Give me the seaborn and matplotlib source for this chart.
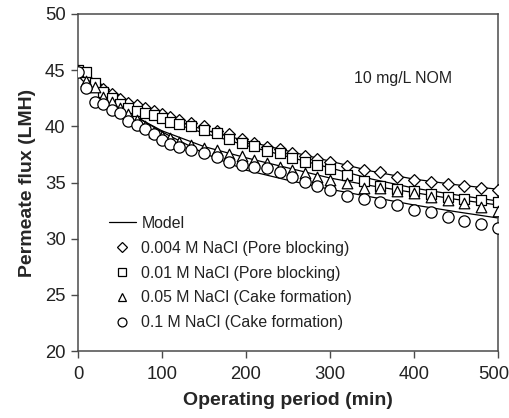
import numpy as np
import pandas as pd
import matplotlib
matplotlib.use("Agg")
import matplotlib.pyplot as plt
import matplotlib.transforms as mtransforms
from matplotlib.lines import Line2D
import seaborn as sns

# ---- data ----
time_min = [0, 10, 20, 30, 40, 50, 60, 70, 80, 90, 100, 110, 120, 135, 150, 165,
            180, 195, 210, 225, 240, 255, 270, 285, 300, 320, 340, 360, 380, 400,
            420, 440, 460, 480, 500]

flux_0004M = [44.9, 44.3, 43.8, 43.3, 42.9, 42.4, 42.1, 41.9, 41.6, 41.4, 41.1, 40.8,
              40.6, 40.3, 40.0, 39.6, 39.3, 38.9, 38.5, 38.2, 37.95, 37.6, 37.4, 37.1,
              36.85, 36.5, 36.15, 35.9, 35.5, 35.2, 35.05, 34.87, 34.7, 34.5, 34.34]
flux_001M = [45.0, 44.8, 43.9, 43.1, 42.5, 42.0, 41.6, 41.4, 41.2, 41.0, 40.7, 40.4,
             40.2, 40.0, 39.7, 39.4, 38.9, 38.5, 38.25, 37.8, 37.6, 37.2, 36.8, 36.55,
             36.2, 35.7, 35.1, 34.7, 34.4, 34.2, 34.0, 33.7, 33.5, 33.4, 33.3]
flux_005M = [44.9, 44.0, 43.5, 42.6, 42.2, 41.6, 41.1, 40.6, 40.0, 39.5, 39.1, 38.95,
             38.6, 38.3, 38.05, 37.85, 37.55, 37.35, 37.0, 36.74, 36.4, 36.1, 35.85,
             35.45, 35.2, 35.0, 34.55, 34.5, 34.2, 34.05, 33.7, 33.4, 33.2, 32.8, 32.47]
flux_01M = [44.84, 43.42, 42.17, 42.0, 41.46, 41.19, 40.48, 40.12, 39.77, 39.32, 38.79,
            38.43, 38.17, 37.9, 37.63, 37.28, 36.83, 36.56, 36.38, 36.3, 35.94, 35.49,
            35.05, 34.69, 34.34, 33.8, 33.54, 33.27, 33.0, 32.56, 32.38, 31.93, 31.58,
            31.31, 30.95]

model_time = [0, 25, 50, 75, 100, 150, 200, 250, 300, 350, 400, 450, 500]
model_0004M = [45.0, 43.6, 42.6, 41.7, 40.9, 39.7, 38.7, 37.8, 36.9, 36.0, 35.3, 34.8, 34.4]
model_001M = [45.0, 43.5, 42.3, 41.4, 40.6, 39.4, 38.3, 37.3, 36.3, 35.3, 34.5, 33.9, 33.35]
model_005M = [45.0, 43.3, 41.9, 40.6, 39.6, 38.2, 37.2, 36.3, 35.4, 34.7, 34.1, 33.5, 33.0]
model_01M = [45.0, 43.2, 41.8, 40.6, 39.5, 37.6, 36.1, 35.2, 34.4, 33.7, 33.0, 32.4, 31.84]

series_labels = ["0.004 M NaCl (Pore blocking)", "0.01 M NaCl (Pore blocking)",
                 "0.05 M NaCl (Cake formation)", "0.1 M NaCl (Cake formation)"]
x_ticks = [0, 100, 200, 300, 400, 500]
y_ticks = [20, 25, 30, 35, 40, 45, 50]
annotation = "10 mg/L NOM"
x_label = "Operating period (min)"
y_label = "Permeate flux (LMH)"

# ---- build tables ----
obs = pd.concat([
    pd.DataFrame({"t": time_min, "flux": f, "series": lab})
    for f, lab in zip([flux_0004M, flux_001M, flux_005M, flux_01M], series_labels)
], ignore_index=True)
mod = pd.concat([
    pd.DataFrame({"t": model_time, "flux": f, "series": lab})
    for f, lab in zip([model_0004M, model_001M, model_005M, model_01M], series_labels)
], ignore_index=True)

sns.set_theme(style="ticks")
plt.rcParams["font.family"] = ["Liberation Sans", "DejaVu Sans"]
axis_col = "#4a4a4a"

fig = plt.figure(figsize=(5.10, 4.18), dpi=100)
ax = fig.add_axes([78 / 510, 1 - 351 / 418, 420 / 510, 337 / 418])

sns.lineplot(data=mod, x="t", y="flux", units="series", estimator=None,
             color="black", linewidth=0.9, ax=ax, legend=False, zorder=2)

markers = ["D", "s", "^", "o"]
msizes = [36, 58, 58, 66]
for lab, m, s in zip(series_labels, markers, msizes):
    sub = obs[obs["series"] == lab]
    sns.scatterplot(data=sub, x="t", y="flux", marker=m, s=s, facecolor="white",
                    edgecolor="black", linewidth=0.9, ax=ax, legend=False, zorder=3)

ax.set_xlim(0, 500)
ax.set_ylim(20, 50)
ax.set_xticks(x_ticks)
ax.set_yticks(y_ticks)
ax.tick_params(direction="out", length=5, width=1, color=axis_col,
               labelsize=13.3, labelcolor="#222222")
ax.tick_params(axis="x", pad=6)
ax.tick_params(axis="y", pad=4)
for sp in ax.spines.values():
    sp.set_color(axis_col)
    sp.set_linewidth(1.1)
ax.set_xlabel(x_label, fontsize=14, fontweight="bold", labelpad=6)
ax.set_ylabel(y_label, fontsize=14, fontweight="bold", labelpad=6)

# keep the last x tick label inside the canvas
fig.canvas.draw()
last = ax.get_xticklabels()[-1]
last.set_transform(last.get_transform() +
                   mtransforms.ScaledTranslation(-4 / 100, 0, fig.dpi_scale_trans))

ax.text(387, 44.3, annotation, fontsize=11.4, ha="center", va="center", color="#222222")

handles = [Line2D([], [], color="black", lw=0.9)]
hlabels = ["Model"]
for lab, m, s in zip(series_labels, markers, [5.2, 6.2, 6.4, 6.4]):
    handles.append(Line2D([], [], linestyle="none", marker=m, markersize=s,
                          markerfacecolor="white", markeredgecolor="black",
                          markeredgewidth=0.9))
    hlabels.append(lab)
leg = ax.legend(handles, hlabels, loc="upper left",
                bbox_to_anchor=((109 - 78) / 420, (351 - 216) / 337),
                frameon=False, borderpad=0, borderaxespad=0, fontsize=11.4,
                handlelength=1.7, handletextpad=0.35, labelspacing=0.62)
for t in leg.get_texts():
    t.set_color("#222222")

fig.savefig("out.png", dpi=100)
